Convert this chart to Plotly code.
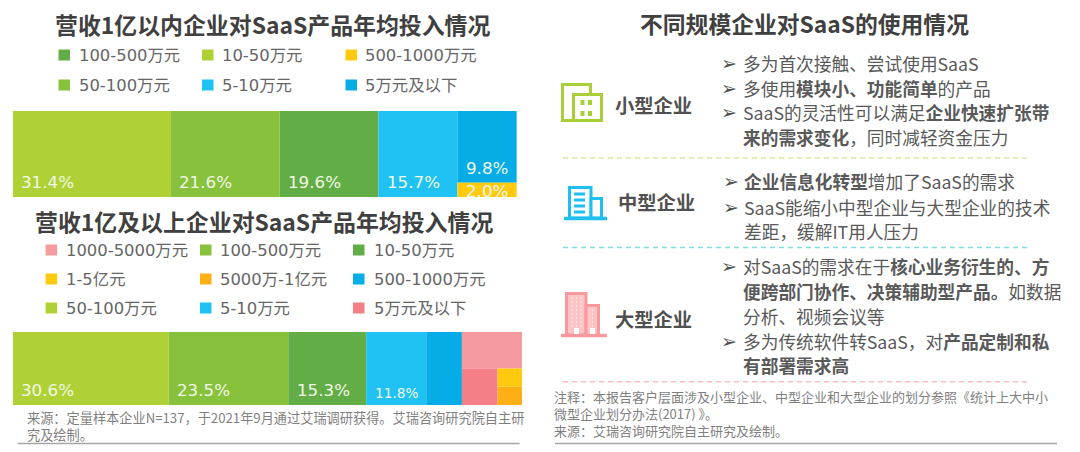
import plotly.graph_objects as go

W, H = 1080, 452
LATIN = "DejaVu Sans, Noto Sans CJK SC, sans-serif"
CJK = "Noto Sans CJK SC, sans-serif"

# ---- data -------------------------------------------------------------
top_title = "营收1亿以内企业对SaaS产品年均投入情况"
top_categories = ["10-50万元", "50-100万元", "100-500万元", "5-10万元", "5万元及以下", "500-1000万元"]
top_values = [31.4, 21.6, 19.6, 15.7, 9.8, 2.0]
top_colors = ["#AFD135", "#88C13C", "#63AD47", "#1FC2F3", "#05ACE6", "#FFC90E"]
top_legend_order = ["100-500万元", "10-50万元", "500-1000万元", "50-100万元", "5-10万元", "5万元及以下"]

bot_title = "营收1亿及以上企业对SaaS产品年均投入情况"
bot_categories = ["50-100万元", "100-500万元", "10-50万元", "5-10万元", "500-1000万元",
                  "1000-5000万元", "5万元及以下", "1-5亿元", "5000万-1亿元"]
bot_values = [30.6, 23.5, 15.3, 11.8, 7.0, 5.9, 3.5, 1.2, 1.2]
bot_colors = ["#AFD135", "#88C13C", "#63AD47", "#1FC2F3", "#05ACE6",
              "#F59A9E", "#F47F86", "#FFC90E", "#FDB015"]
bot_legend_order = ["1000-5000万元", "100-500万元", "10-50万元", "1-5亿元", "5000万-1亿元",
                    "500-1000万元", "50-100万元", "5-10万元", "5万元及以下"]

source_left = ["来源：定量样本企业N=137，于2021年9月通过艾瑞调研获得。艾瑞咨询研究院自主研", "究及绘制。"]
right_title = "不同规模企业对SaaS的使用情况"
groups = [
    ("小型企业", 653.4, 105, [
        (63, True, "多为首次接触、尝试使用SaaS"),
        (88, True, "多使用<b>模块小、功能简单</b>的产品"),
        (112.5, True, "SaaS的灵活性可以满足<b>企业快速扩张带</b>"),
        (137, False, "<b>来的需求变化</b>，同时减轻资金压力"),
    ]),
    ("中型企业", 656, 202, [
        (181, True, "<b>企业信息化转型</b>增加了SaaS的需求"),
        (207, True, "SaaS能缩小中型企业与大型企业的技术"),
        (231, False, "差距，缓解IT用人压力"),
    ]),
    ("大型企业", 653.4, 319, [
        (266, True, "对SaaS的需求在于<b>核心业务衍生的、方</b>"),
        (291, False, "<b>便跨部门协作、决策辅助型产品。</b>如数据"),
        (316, False, "分析、视频会议等"),
        (341, True, "多为传统软件转SaaS，对<b>产品定制和私</b>"),
        (365, False, "<b>有部署需求高</b>"),
    ]),
]
notes_right = ["注释：本报告客户层面涉及小型企业、中型企业和大型企业的划分参照《统计上大中小",
               "微型企业划分办法(2017) 》。", "来源：艾瑞咨询研究院自主研究及绘制。"]

# ---- helpers ----------------------------------------------------------
fx = lambda px: px / W
fy = lambda py: 1 - py / H
annotations, shapes = [], []


def text(px, py, s, size, color="#595959", family=CJK, anchor="left"):
    annotations.append(dict(x=fx(px), y=fy(py), xref="paper", yref="paper", text=s, showarrow=False,
                            xanchor=anchor, yanchor="middle", align=anchor, borderpad=0,
                            font=dict(size=size, color=color, family=family)))


def shape(kind, x0, y0, x1, y1, fill=None, line=None, lw=0, dash=None):
    d = dict(type=kind, xref="paper", yref="paper", x0=fx(x0), x1=fx(x1), y0=fy(y0), y1=fy(y1),
             line=dict(width=lw, color=line or "rgba(0,0,0,0)", dash=dash or "solid"))
    if fill:
        d["fillcolor"] = fill
    shapes.append(d)


def legend(order, cats, colors, xs_swatch, xs_text, ys):
    cmap = dict(zip(cats, colors))
    n = len(xs_swatch)
    for i, c in enumerate(order):
        col, row = i % n, i // n
        shape("rect", xs_swatch[col], ys[row] - 5.5, xs_swatch[col] + 11.5, ys[row] + 5.5, fill=cmap[c])
        text(xs_text[col], ys[row], c, 16.4, "#666666", LATIN)


fig = go.Figure()


def add_bar(x0, width, y0, height, name, color, xa, ya):
    fig.add_trace(go.Bar(x=[x0 + width / 2], y=[height], base=[y0], width=[width], name=name,
                         marker=dict(color=color, line=dict(width=0)), xaxis=xa, yaxis=ya, showlegend=False))


# top chart: five columns, the last split into two stacked cells
x = 0.0
tops = []
for i in range(4):
    add_bar(x, top_values[i], 0, 1, top_categories[i], top_colors[i], "x", "y")
    tops.append(x)
    x += top_values[i]
last = top_values[4] + top_values[5]
add_bar(x, last, 0, top_values[5] / last, top_categories[5], top_colors[5], "x", "y")
add_bar(x, last, top_values[5] / last, top_values[4] / last, top_categories[4], top_colors[4], "x", "y")
top_last_x, top_last_w = x, last
top_total = sum(top_values)

# bottom chart: five columns, then a nested block of four cells
x = 0.0
bots = []
for i in range(5):
    add_bar(x, bot_values[i], 0, 1, bot_categories[i], bot_colors[i], "x2", "y2")
    bots.append(x)
    x += bot_values[i]
block = sum(bot_values[5:])
h_top = bot_values[5] / block
add_bar(x, block, 1 - h_top, h_top, bot_categories[5], bot_colors[5], "x2", "y2")
low = block - bot_values[5]
w_left = bot_values[6] / low * block
add_bar(x, w_left, 0, 1 - h_top, bot_categories[6], bot_colors[6], "x2", "y2")
w_right = block - w_left
h_a = bot_values[8] / (bot_values[7] + bot_values[8]) * (1 - h_top)
add_bar(x + w_left, w_right, 0, h_a, bot_categories[8], bot_colors[8], "x2", "y2")
add_bar(x + w_left, w_right, h_a, 1 - h_top - h_a, bot_categories[7], bot_colors[7], "x2", "y2")
bot_total = sum(bot_values)


def bar_label(xval, frac, xa, ya, s, size=16.7, xshift=7.5, anchor="left"):
    annotations.append(dict(x=xval, y=frac, xref=xa, yref=ya, text=f"{s:.1f}%", showarrow=False, xanchor=anchor,
                            yanchor="middle", xshift=xshift, borderpad=0,
                            font=dict(size=size, color="#F2F8E6", family=LATIN)))


for i in range(4):
    bar_label(tops[i], 0.178, "x", "y", top_values[i])
bar_label(top_last_x + top_last_w / 2, 0.34, "x", "y", top_values[4], xshift=0, anchor="center")
bar_label(top_last_x + top_last_w / 2, 0.07, "x", "y", top_values[5], xshift=0, anchor="center")
for i in range(3):
    bar_label(bots[i], 0.2, "x2", "y2", bot_values[i])
bar_label(bots[3], 0.17, "x2", "y2", bot_values[3], size=13.7)

# left column text
text(272.6, 24, f"<b>{top_title}</b>", 22.9, "#404040", anchor="center")
legend(top_legend_order, top_categories, top_colors, [58.5, 202, 345.5], [78.4, 221.4, 364.4], [55, 85])
text(264, 221, f"<b>{bot_title}</b>", 22.9, "#404040", anchor="center")
legend(bot_legend_order, bot_categories, bot_colors, [45.6, 200, 353], [65, 219, 372.5], [250, 279, 308])
text(25.5, 425.5, "<br>".join(source_left), 13.2, "#7F7F7F")
shape("line", 17.6, 443.5, 519.6, 443.5, line="#A6A6A6", lw=1.5)

# right column text
text(804, 24, f"<b>{right_title}</b>", 22.8, "#404040", anchor="center")
for name, cx, cy, lines in groups:
    text(cx, cy, f"<b>{name}</b>", 19.3, "#505050", anchor="center")
    offs = 1.7 if name == "中型企业" else 0
    for y, bullet, s in lines:
        if bullet:
            text(720 + offs, y, "➢", 19, "#505050", "DejaVu Sans")
        text(741.7 + offs, y, s, 17.7, "#595959")
for y, c in [(158, "#DCE6A4"), (247.5, "#7FDCE8"), (381.7, "#F7BFC1")]:
    shape("line", 563, y, 1030, y, line=c, lw=1.5, dash="5px,4px")
text(553, 413, "<br>".join(notes_right), 13, "#7F7F7F")
shape("line", 555, 443.5, 1057, 443.5, line="#A6A6A6", lw=1.5)

# icons
G, B, P = "#A9CF38", "#1FC0F0", "#F79A9D"
shape("rect", 562.5, 84.5, 590.5, 120.5, line=G, lw=3, fill="white")
shape("rect", 573.5, 94.5, 601.5, 120.5, line=G, lw=3, fill="white")
for dx in (580.5, 588):
    for dy in (100, 111):
        shape("rect", dx, dy, dx + 4, dy + 5, fill=G)
shape("rect", 569.5, 187.5, 591, 218, line=B, lw=3, fill="white")
shape("rect", 591, 198.5, 601.5, 218, line=B, lw=3, fill="white")
shape("line", 564, 218.5, 607, 218.5, line=B, lw=3.5)
for dy in (194, 200, 206, 212):
    shape("line", 574, dy, 585, dy, line=B, lw=3)
shape("rect", 566.5, 293.5, 586, 335, line=P, lw=3, fill="#FBC4C6")
shape("rect", 586, 305.5, 598.5, 335, line=P, lw=3, fill="#FBC4C6")
shape("line", 561, 335.5, 607, 335.5, line=P, lw=3.5)
for vx in (572, 576.5, 581, 592.5):
    shape("line", vx, 297 if vx < 586 else 309, vx, 327, line="#FDE3E4", lw=1, dash="2px,2px")
shape("rect", 574, 328, 579, 334, fill="white")
shape("rect", 590, 328, 595, 334, fill="white")

hidden = dict(visible=False, showgrid=False, zeroline=False, fixedrange=True)
fig.update_layout(
    width=W, height=H, margin=dict(l=0, r=0, t=0, b=0), autosize=False,
    paper_bgcolor="white", plot_bgcolor="white", barmode="overlay", showlegend=False,
    xaxis=dict(hidden, domain=[fx(12.8), fx(516.8)], range=[0, top_total], anchor="y"),
    yaxis=dict(hidden, domain=[fy(197), fy(111)], range=[0, 1], anchor="x"),
    xaxis2=dict(hidden, domain=[fx(12.8), fx(522)], range=[0, bot_total], anchor="y2"),
    yaxis2=dict(hidden, domain=[fy(405), fy(332)], range=[0, 1], anchor="x2"),
    annotations=annotations, shapes=shapes,
)
fig.write_html("out.html", config={"displayModeBar": False},
               post_script="document.body.style.margin='0';document.documentElement.style.overflow='hidden';")
